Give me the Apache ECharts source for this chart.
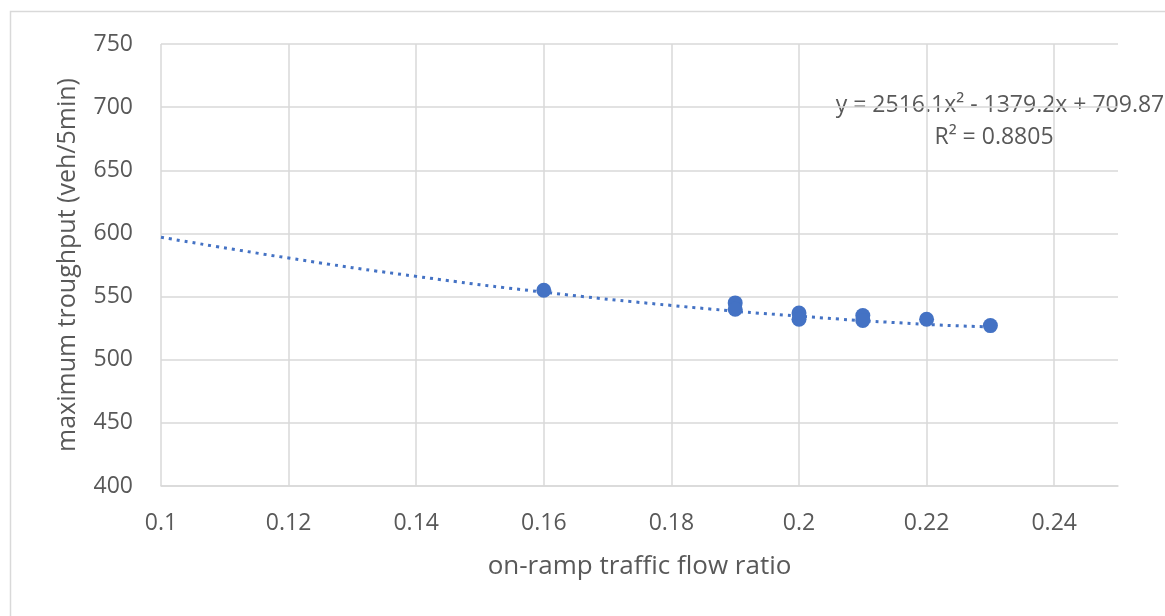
<!DOCTYPE html>
<html>
<head>
<meta charset="utf-8">
<script src="https://cdn.jsdelivr.net/npm/echarts@6/dist/echarts.min.js"></script>
<style>
  html, body { margin: 0; padding: 0; background: #fff; }
  #chart { width: 1165px; height: 616px; }
</style>
</head>
<body>
<div id="chart"></div>
<script>
// measured points: on-ramp ratio -> max throughput
var ratioX = [0.16, 0.19, 0.19, 0.2, 0.2, 0.21, 0.21, 0.22, 0.23];
var throughputY = [555, 545, 540, 537, 532, 535, 531, 532, 527];

// trend line
var trendX = [0.1, 0.12, 0.14, 0.16, 0.18, 0.2, 0.22, 0.23];
var trendY = [597, 580.5, 566, 553.5, 543, 534.5, 528, 526];

var equationText = 'y = 2516.1x² - 1379.2x + 709.87';
var r2Text = 'R² = 0.8805';

var blue = '#4472C4';
var gridGray = '#d9d9d9';
var textGray = '#595959';
var font = 'Open Sans';

var points = ratioX.map(function (x, i) { return [x, throughputY[i]]; });
var trend = trendX.map(function (x, i) { return [x, trendY[i]]; });

var chart = echarts.init(document.getElementById('chart'));
var option = {
  animation: false,
  backgroundColor: '#fff',
  grid: { left: 161, right: 47, top: 44, bottom: 130 },
  xAxis: {
    type: 'value',
    min: 0.1,
    max: 0.25,
    interval: 0.02,
    name: 'on-ramp traffic flow ratio',
    nameLocation: 'middle',
    nameGap: 68,
    nameTextStyle: { color: textGray, fontSize: 26, fontFamily: font },
    axisLine: { show: true, lineStyle: { color: gridGray, width: 1.5 } },
    axisTick: { show: false },
    axisLabel: {
      color: textGray, fontSize: 23, fontFamily: font, margin: 26,
      showMaxLabel: false,
      formatter: function (v) { return Math.round(v * 100) / 100 + ''; }
    },
    splitLine: {
      show: true,
      lineStyle: {
        color: [gridGray, gridGray, gridGray, gridGray, gridGray, gridGray, gridGray, gridGray, 'rgba(0,0,0,0)'],
        width: 1.5
      }
    }
  },
  yAxis: {
    type: 'value',
    min: 400,
    max: 750,
    interval: 50,
    name: 'maximum troughput (veh/5min)',
    nameLocation: 'middle',
    nameGap: 81,
    nameTextStyle: { color: textGray, fontSize: 25, fontFamily: font },
    axisLine: { show: false },
    axisTick: { show: false },
    axisLabel: { color: textGray, fontSize: 23, fontFamily: font, margin: 28 },
    splitLine: { show: true, lineStyle: { color: gridGray, width: 1.5 } }
  },
  series: [
    {
      type: 'line',
      data: trend,
      smooth: true,
      showSymbol: false,
      lineStyle: { color: blue, width: 3, type: [3, 5] },
      z: 2
    },
    {
      type: 'scatter',
      data: points,
      symbolSize: 15,
      itemStyle: { color: blue, opacity: 1 },
      z: 3
    }
  ],
  graphic: [
    {
      type: 'rect',
      shape: { x: 10.5, y: 11.5, width: 1170, height: 620 },
      style: { fill: 'none', stroke: gridGray, lineWidth: 1.5 },
      silent: true
    },
    {
      type: 'text',
      x: 1000, y: 105,
      style: { text: equationText, textAlign: 'center', verticalAlign: 'middle', fill: textGray, font: '23px "Open Sans"' }
    },
    {
      type: 'text',
      x: 994, y: 137,
      style: { text: r2Text, textAlign: 'center', verticalAlign: 'middle', fill: textGray, font: '23px "Open Sans"' }
    }
  ]
};
chart.setOption(option);
</script>
</body>
</html>
